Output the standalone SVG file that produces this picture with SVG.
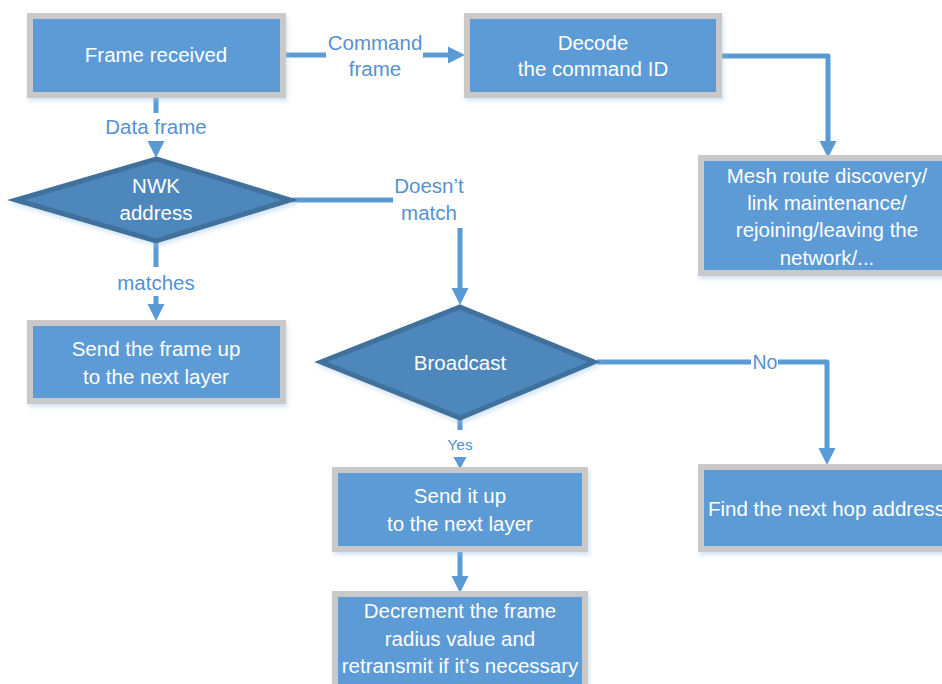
<svg xmlns="http://www.w3.org/2000/svg" xmlns:xlink="http://www.w3.org/1999/xlink" width="942" height="684" viewBox="0 0 942 684">
  <style>
    .box { fill: #5b9bd5; stroke: #c9c9c9; stroke-width: 6; filter: url(#shadow); }
    .dec { fill: #4d87bb; stroke: #41719c; stroke-width: 5; stroke-linejoin: miter; filter: url(#shadow); }
    .txt { font-family: "Liberation Sans", Arial, sans-serif; font-size: 20.5px; fill: #ffffff; text-anchor: middle; }
    .lbl { font-family: "Liberation Sans", Arial, sans-serif; font-size: 20.5px; fill: #5592d0; text-anchor: middle; }
    .ln { fill: none; stroke: #5b9bd5; stroke-width: 5; stroke-linejoin: round; }
    .ah { fill: #5b9bd5; }
  </style>
  <defs>
    <filter id="shadow" x="-10%" y="-10%" width="125%" height="130%">
      <feDropShadow dx="1.5" dy="3" stdDeviation="2" flood-color="#9dc3e6" flood-opacity="0.45"/>
    </filter>
    <!-- downward arrowhead, base centred on the origin, tip at (0,17) -->
    <path id="arrow" d="M-8.5,0 L8.5,0 L0,17 Z"/>
  </defs>

  <rect width="942" height="684" fill="#ffffff"/>

  <!-- connectors -->
  <g id="connectors">
    <!-- Frame received -> Decode -->
    <path class="ln" d="M284,55 H326"/>
    <path class="ln" d="M423,55 H449"/>
    <use xlink:href="#arrow" class="ah" transform="translate(448,55) rotate(-90)"/>
    <text class="lbl" x="375" y="50">Command</text>
    <text class="lbl" x="375" y="76">frame</text>

    <!-- Decode -> Mesh route discovery -->
    <path class="ln" d="M719,56 H828 V142"/>
    <use xlink:href="#arrow" class="ah" transform="translate(828,141)"/>

    <!-- Frame received -> NWK address -->
    <path class="ln" d="M156,96 V113"/>
    <use xlink:href="#arrow" class="ah" transform="translate(156,141)"/>
    <text class="lbl" x="156" y="134">Data frame</text>

    <!-- NWK address -> Send the frame up -->
    <path class="ln" d="M156,242 V267"/>
    <path class="ln" d="M156,296 V305"/>
    <use xlink:href="#arrow" class="ah" transform="translate(156,304)"/>
    <text class="lbl" x="156" y="290">matches</text>

    <!-- NWK address -> Broadcast -->
    <path class="ln" d="M292,200 H393"/>
    <path class="ln" d="M460,228 V289"/>
    <use xlink:href="#arrow" class="ah" transform="translate(460,288)"/>
    <text class="lbl" x="429" y="193">Doesn’t</text>
    <text class="lbl" x="429" y="220">match</text>

    <!-- Broadcast -> Find the next hop address -->
    <path class="ln" d="M597,362 H751"/>
    <path class="ln" d="M778,362 H827 V449"/>
    <use xlink:href="#arrow" class="ah" transform="translate(827,448)"/>
    <text class="lbl" x="765" y="369" style="font-size:19.5px">No</text>

    <!-- Broadcast -> Send it up -->
    <path class="ln" d="M460,419 V430"/>
    <use xlink:href="#arrow" class="ah" transform="translate(460,457) scale(0.76,0.72)"/>
    <text class="lbl" x="460" y="450" style="font-size:15.5px">Yes</text>

    <!-- Send it up -> Decrement -->
    <path class="ln" d="M460,551 V577"/>
    <use xlink:href="#arrow" class="ah" transform="translate(460,576)"/>
  </g>

  <g id="frame-received">
    <rect class="box" x="30" y="16" width="253" height="79"/>
    <text class="txt" x="156" y="62">Frame received</text>
  </g>

  <g id="decode-command">
    <rect class="box" x="467" y="16" width="252" height="79"/>
    <text class="txt" x="593" y="50">Decode</text>
    <text class="txt" x="593" y="76">the command ID</text>
  </g>

  <g id="mesh-route">
    <rect class="box" x="701" y="158" width="254" height="115"/>
    <text class="txt" x="827" y="183">Mesh route discovery/</text>
    <text class="txt" x="827" y="210">link maintenance/</text>
    <text class="txt" x="827" y="237">rejoining/leaving the</text>
    <text class="txt" x="827" y="265">network/...</text>
  </g>

  <g id="nwk-address">
    <polygon class="dec" points="156,159 290,200 156,241 16,200"/>
    <text class="txt" x="156" y="193">NWK</text>
    <text class="txt" x="156" y="220">address</text>
  </g>

  <g id="send-frame-up">
    <rect class="box" x="30" y="323" width="253" height="78"/>
    <text class="txt" x="156" y="356">Send the frame up</text>
    <text class="txt" x="156" y="384">to the next layer</text>
  </g>

  <g id="broadcast">
    <polygon class="dec" points="460,307 594,362 460,418 321,362"/>
    <text class="txt" x="460" y="370">Broadcast</text>
  </g>

  <g id="find-next-hop">
    <rect class="box" x="701" y="467" width="254" height="82"/>
    <text class="txt" x="708" y="516" style="text-anchor:start">Find the next hop address</text>
  </g>

  <g id="send-it-up">
    <rect class="box" x="335" y="470" width="250" height="79"/>
    <text class="txt" x="460" y="503">Send it up</text>
    <text class="txt" x="460" y="531">to the next layer</text>
  </g>

  <g id="decrement">
    <rect class="box" x="335" y="594" width="250" height="115"/>
    <text class="txt" x="460" y="618">Decrement the frame</text>
    <text class="txt" x="460" y="646">radius value and</text>
    <text class="txt" x="460" y="673">retransmit if it’s necessary</text>
  </g>
</svg>
